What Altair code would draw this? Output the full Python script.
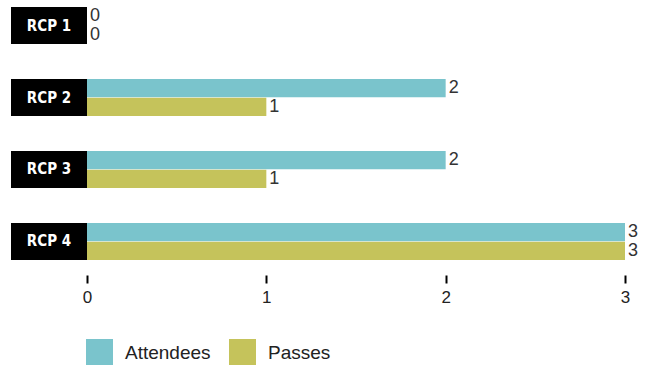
import altair as alt
import pandas as pd

# Rows, series and values
rows = ["RCP 1", "RCP 2", "RCP 3", "RCP 4"]
series = ["Attendees", "Passes"]
attendees = [0, 2, 2, 3]
passes = [0, 1, 1, 3]
colors = ["#7AC4CC", "#C5C35B"]

records = []
for r, a, p in zip(rows, attendees, passes):
    records.append({"row": r, "series": "Attendees", "value": a})
    records.append({"row": r, "series": "Passes", "value": p})
df = pd.DataFrame(records)
labels_df = pd.DataFrame({"row": rows})

y_enc = alt.Y("row:N", sort=rows, axis=None,
              scale=alt.Scale(paddingInner=0.486, paddingOuter=0))
yoff = alt.YOffset("series:N", sort=series,
                   scale=alt.Scale(paddingInner=0.03, paddingOuter=0))

bars = alt.Chart(df).mark_bar().encode(
    x=alt.X("value:Q", scale=alt.Scale(domain=[0, 3], nice=False),
            axis=alt.Axis(values=[0, 1, 2, 3], title=None, domain=False,
                          grid=False, offset=15, tickSize=8, tickWidth=2,
                          tickColor="#000", labelFontSize=17,
                          labelColor="#222", labelFont="Liberation Sans",
                          labelPadding=6, labelFlush=False, format="d")),
    y=y_enc,
    yOffset=yoff,
    color=alt.Color("series:N", sort=series,
                    scale=alt.Scale(domain=series, range=colors),
                    legend=alt.Legend(title=None, orient="none",
                                      direction="horizontal",
                                      legendX=-1, legendY=332,
                                      symbolType="square", symbolSize=729,
                                      symbolStrokeWidth=0, symbolOpacity=1,
                                      labelFontSize=19, labelFont="Liberation Sans",
                                      labelColor="#222", labelOffset=12,
                                      columnPadding=18)),
)

values = alt.Chart(df).mark_text(
    align="left", baseline="middle", dx=3, fontSize=18,
    font="Liberation Sans", color="#333"
).encode(
    x="value:Q",
    y=y_enc,
    yOffset=yoff,
    text=alt.Text("value:Q", format="d"),
)

boxes = alt.Chart(labels_df).mark_bar(color="#000").encode(
    x=alt.value(-76), x2=alt.value(0), y=y_enc,
)

box_text = alt.Chart(labels_df).mark_text(
    color="#fff", fontSize=15, fontWeight="bold",
    font="DejaVu Sans Condensed", align="center", baseline="middle"
).encode(
    x=alt.value(-38), y=y_enc, text="row:N",
)

chart = alt.layer(boxes, box_text, bars, values).properties(
    width=538, height=253,
    padding={"left": 87, "top": 7, "right": 34, "bottom": 105},
    autosize=alt.AutoSizeParams(type="none"),
).configure_view(stroke=None)

chart.save("out.html", embed_options={"renderer": "svg", "actions": False})
